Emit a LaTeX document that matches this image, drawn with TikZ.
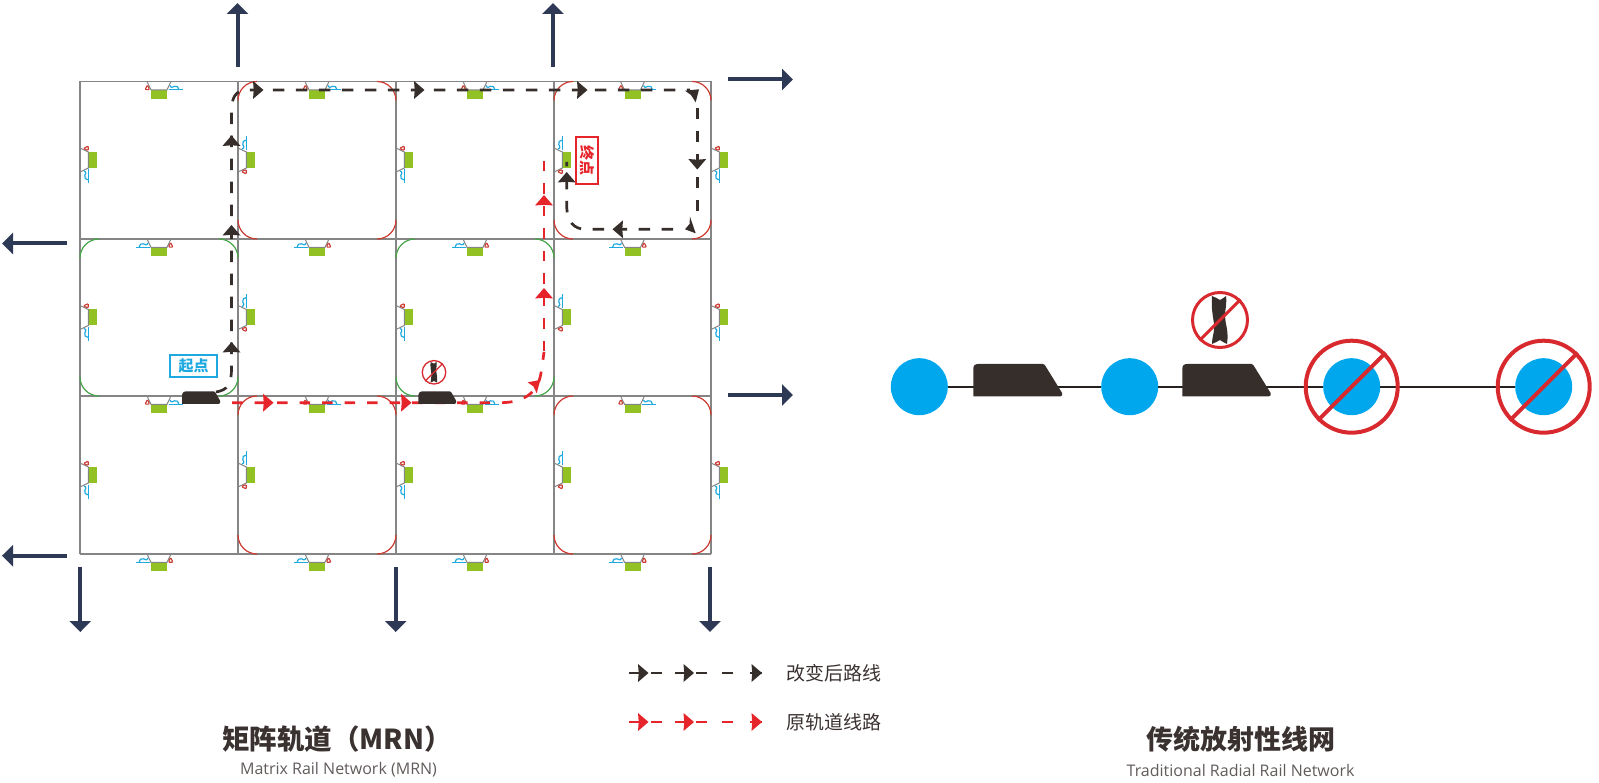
\documentclass[tikz,border=0pt]{standalone}
\usepackage{fontspec}
\setmainfont{Open Sans}
\newfontfamily\cjk{Noto Sans CJK SC}
\usetikzlibrary{arrows.meta}
\definecolor{gridgray}{HTML}{858585}
\definecolor{navy}{HTML}{2E3A55}
\definecolor{trainc}{HTML}{362E2B}
\definecolor{rred}{HTML}{E6252B}
\definecolor{arcred}{HTML}{CC3A32}
\definecolor{arcgreen}{HTML}{45A548}
\definecolor{limeg}{HTML}{92C124}
\definecolor{skyb}{HTML}{1FA9E1}
\definecolor{stationb}{HTML}{00A7EC}
\definecolor{banred}{HTML}{D8292F}
\definecolor{txt}{HTML}{3A3230}
\tikzset{
  gridline/.style={draw=gridgray,line width=1.2pt},
  bigarrow/.style={draw=navy,line width=4pt,-{Triangle[length=11pt,width=21pt]}},
  blackroute/.style={draw=trainc,line width=2.7pt,dash pattern=on 11.5pt off 11.5pt},
  redroute/.style={draw=rred,line width=2.7pt,dash pattern=on 10.5pt off 12pt},
  station/.style={fill=stationb,draw=none,circle,minimum size=57pt,inner sep=0pt},
  banline/.style={draw=banred,line width=4pt},
  cnlabel/.style={font=\cjk\fontsize{19}{19}\selectfont,text=txt,inner sep=0pt},
  title/.style={font=\cjk\bfseries\fontsize{27}{27}\selectfont,text=txt,inner sep=0pt},
  subtitle/.style={font=\fontsize{16}{16}\selectfont,text=txt!80,inner sep=0pt},
  boxlabel/.style={fill=white,line width=1.8pt,minimum width=47pt,minimum height=22pt,inner sep=0pt,font=\cjk\bfseries\fontsize{15}{15}\selectfont},
}
% one platform module, drawn along its track line
\newcommand{\stmod}{%
  \fill[limeg] (-8,8.4) rectangle (8,17.3);
  \draw[gridgray,line width=1pt] (-12,0)--(-8,8.4)--(8,8.4)--(12,0);
  \draw[arcred,line width=1.1pt,rounded corners=1pt] (-11.5,3.5)--(-14,8.2)--(-9.5,8.2)--cycle;
  \draw[skyb,line width=1.2pt] (9.5,8.4)--(23.5,8.4);
  \draw[skyb,line width=1.2pt] (11,4) .. controls (12,7) and (14,5.5) .. (15.5,4.8) .. controls (18,4) and (19.5,5.5) .. (20,8.4);
}
\newcommand{\hmod}[3]{\begin{scope}[shift={(#1,#2)},xscale=#3]\stmod\end{scope}}
\newcommand{\vmod}[3]{\begin{scope}[cm={0,-1,-1,0,(#1,#2)}]\begin{scope}[xscale=#3]\stmod\end{scope}\end{scope}}
% corner arcs of one cell
\newcommand{\cellarcs}[5]{% x0,y0,x1,y1,colour
  \draw[#5,line width=1.2pt]
   (#1,#2+19) .. controls (#1,#2+8.5) and (#1+8.5,#2) .. (#1+19,#2)
   (#3-19,#2) .. controls (#3-8.5,#2) and (#3,#2+8.5) .. (#3,#2+19)
   (#1,#4-19) .. controls (#1,#4-8.5) and (#1+8.5,#4) .. (#1+19,#4)
   (#3-19,#4) .. controls (#3-8.5,#4) and (#3,#4-8.5) .. (#3,#4-19);
}
\newcommand{\rhead}[4]{\begin{scope}[shift={(#1,#2)},rotate=#3]\fill[#4] (-5,-9)--(5.5,0)--(-5,9)--(-4.3,0)--cycle;\end{scope}}
\newcommand{\trainshape}[5]{% x0,xtop,x1,ytop,ybot
  \fill[trainc] (#1,#5) -- (#1,#4+5) .. controls (#1,#4+1.5) and (#1+1.5,#4) .. (#1+5,#4) -- (#2,#4) .. controls (#2+.8,#4) and (#2+1.2,#4+.3) .. (#2+1.8,#4+1) -- (#3,#5-3.5) .. controls (#3+.8,#5-1.5) and (#3,#5) .. (#3-1.5,#5) -- cycle;
}
\newcommand{\bigarr}[5]{\coordinate (#1s) at (#2,#3); \coordinate (#1e) at (#4,#5); \draw[bigarrow] (#1s) -- (#1e);}
% rail section inside a no-entry sign
\newcommand{\norail}[3]{\begin{scope}[shift={(#1,#2)},scale=#3]
  \fill[trainc] (-8,-24) .. controls (-5,-23) and (-2,-21) .. (0,-20) .. controls (2,-21) and (5,-23) .. (6,-24)
     .. controls (7,-16) and (5,-10) .. (5,-4) .. controls (5,4) and (9,10) .. (7,24)
     .. controls (4,23) and (2,21) .. (0,20) .. controls (-2,21) and (-5,23) .. (-8,24)
     .. controls (-8,16) and (-5,12) .. (-6,4) .. controls (-7,-4) and (-9,-12) .. (-8,-24) -- cycle;
  \end{scope}}
\begin{document}
\begin{tikzpicture}[x=1pt,y=-1pt]
\useasboundingbox (0,0) rectangle (1599,783);
% grid
\foreach \gx in {80,238,396,554,711} \draw[gridline] (\gx,81.5) -- (\gx,554);
\foreach \gy in {81.5,239,396,554} \draw[gridline] (80,\gy) -- (711,\gy);
% corner arcs
\cellarcs{238}{81.5}{396}{239}{arcred}
\cellarcs{554}{81.5}{711}{239}{arcred}
\cellarcs{238}{396}{396}{554}{arcred}
\cellarcs{554}{396}{711}{554}{arcred}
\cellarcs{80}{239}{238}{396}{arcgreen}
\cellarcs{396}{239}{554}{396}{arcgreen}
% modules
\foreach \cx in {159,317,475,632.5} {
  \hmod{\cx}{81.5}{1}
  \hmod{\cx}{239}{-1}
  \hmod{\cx}{396}{1}
  \hmod{\cx}{554}{-1}
}
\foreach \cy in {160,317.5,475} {
  \vmod{80}{\cy}{1}
  \vmod{238}{\cy}{-1}
  \vmod{396}{\cy}{1}
  \vmod{554}{\cy}{-1}
  \vmod{711}{\cy}{1}
}
% outward arrows
\bigarr{u1}{237.5}{67}{237.5}{3}
\bigarr{u2}{553}{67}{553}{3}
\bigarr{r1}{728}{79.5}{793}{79.5}
\bigarr{r2}{728}{395}{793}{395}
\bigarr{l1}{67}{243.5}{2}{243.5}
\bigarr{l2}{67}{555.7}{2}{555.7}
\bigarr{d1}{80.3}{566.7}{80.3}{632}
\bigarr{d2}{395.7}{566.7}{395.7}{632}
\bigarr{d3}{710}{566.7}{710}{632}
% red route
\coordinate (ra) at (232,402.7);
\coordinate (rb) at (544,161);
\coordinate (rc) at (544,352);
\draw[redroute] (ra) -- (500,402.7) .. controls (525,402.7) and (538,392) .. (541,373) .. controls (542,366) and (543,360) .. (rc);
\draw[redroute] (rb) -- (rc);
\rhead{268}{402.7}{0}{rred}
\rhead{406}{402.7}{0}{rred}
\rhead{544}{293.5}{90}{rred}
\rhead{544}{200.5}{90}{rred}
\fill[rred] (527.7,382.3)--(540.3,380)--(536.7,393.3)--(533.5,386.5)--cycle;
% black route
\coordinate (ba) at (216,392);
\coordinate (bb) at (690,90);
\coordinate (bc) at (697.3,108);
\coordinate (bd) at (697.3,214);
\coordinate (be) at (673,229.3);
\coordinate (bf) at (566.7,162);
\draw[blackroute] (ba) .. controls (228,390) and (231.5,384) .. (231.5,368) -- (231.5,110) .. controls (231.5,98) and (236,90) .. (246,90) -- (bb);
\draw[blackroute] (bc) -- (bd);
\draw[blackroute] (be) -- (586,229.3) .. controls (574,229.3) and (566.7,222) .. (566.7,205) -- (bf);
\rhead{231.5}{347.5}{90}{trainc}
\rhead{231.5}{230.5}{90}{trainc}
\rhead{231.5}{141}{90}{trainc}
\rhead{258}{90}{0}{trainc}
\rhead{419}{90}{0}{trainc}
\rhead{582}{90}{0}{trainc}
\rhead{697.3}{164}{-90}{trainc}
\rhead{618}{229.3}{180}{trainc}
\rhead{566.7}{177.5}{90}{trainc}
\fill[trainc] (685,90.7)--(699,89.3)--(695.7,102.3)--(691,95)--cycle;
\fill[trainc] (690,216.7)--(695.7,233.3)--(685,229.3)--(689.5,224)--cycle;
% small trains
\trainshape{182}{213.5}{220}{391.3}{404}
\trainshape{418.3}{449.5}{456}{391.3}{404}
% small no-entry sign
\norail{434}{372.3}{.43}
\node[draw=banred,line width=1.3pt,circle,minimum size=23.5pt,inner sep=0pt] (nosmall) at (434,372.3) {};
\draw[banred,line width=1.3pt] (nosmall.45) -- (nosmall.225);
% start and end labels
\node[boxlabel,draw=skyb,text=skyb] (qidian) at (193.6,365.7) {起点};
\node[boxlabel,draw=rred,text=rred,rotate=-90] (zhongdian) at (587.3,160.8) {终点};
% radial line
\node[station] (s1) at (919.3,386.7) {};
\node[station] (s2) at (1129.7,386.7) {};
\node[station] (s3) at (1351.7,386.7) {};
\node[station] (s4) at (1543.7,386.7) {};
\draw[trainc!70!black,line width=1.7pt] (s1) -- (s2) (s2) -- (s3) (s3) -- (s4);
\trainshape{973.3}{1043}{1062}{364}{396.3}
\trainshape{1182.3}{1251.5}{1270.5}{364}{396.3}
\foreach \bx/\bn in {1351.7/b3,1543.7/b4} {
  \node[draw=banred,line width=4pt,circle,minimum size=92pt,inner sep=0pt] (\bn) at (\bx,386.7) {};
  \draw[banline] (\bn.45) -- (\bn.225);
}
\norail{1220}{320}{1}
\node[draw=banred,line width=3pt,circle,minimum size=55pt,inner sep=0pt] (bigno) at (1220,320) {};
\draw[banred,line width=3pt] (bigno.45) -- (bigno.225);
% legend
\coordinate (k1s) at (629,673); \coordinate (k1e) at (762,673);
\coordinate (k2s) at (629,722); \coordinate (k2e) at (762,722);
\draw[trainc,line width=2.7pt,dash pattern=on 16pt off 6pt on 11pt off 13pt on 15pt off 6pt on 11pt off 15pt on 11pt off 17pt on 12pt] (k1s) -- (k1e);
\draw[rred,line width=2.7pt,dash pattern=on 16pt off 6pt on 11pt off 13pt on 15pt off 6pt on 11pt off 15pt on 11pt off 17pt on 12pt] (k2s) -- (k2e);
\foreach \lx in {643,688.5,756.5} {
  \rhead{\lx}{673}{0}{trainc}
  \rhead{\lx}{722}{0}{rred}
}
\node[cnlabel,anchor=west] (l1) at (786,673) {改变后路线};
\node[cnlabel,anchor=west] (l2) at (786,722) {原轨道线路};
% titles
\node[title,anchor=west,font=\cjk\bfseries\fontsize{27.5}{28}\selectfont] (t1) at (222,739.5) {矩阵轨道（MRN）};
\node[subtitle] (t1b) at (338.5,770) {Matrix Rail Network (MRN)};
\node[title] (t2) at (1241,739.5) {传统放射性线网};
\node[subtitle] (t2b) at (1240.6,770) {Traditional Radial Rail Network};
\end{tikzpicture}
\end{document}
